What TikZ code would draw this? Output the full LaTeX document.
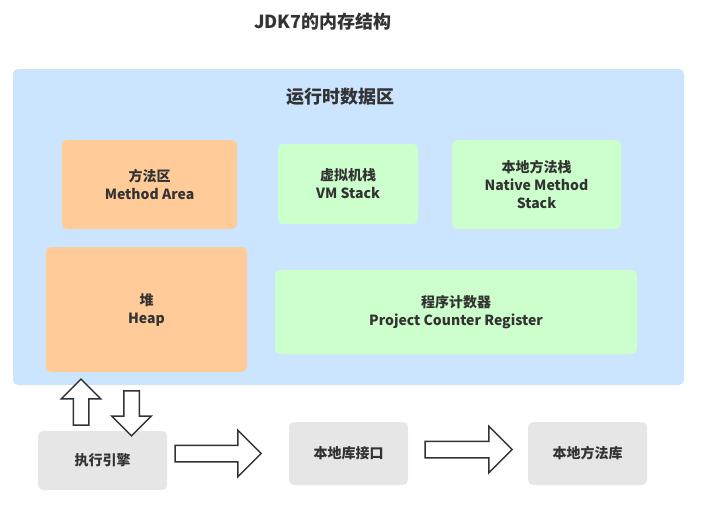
\documentclass[tikz,border=0pt]{standalone}
\usepackage{fontspec}
\setmainfont{Noto Sans CJK SC}
\usepackage{tikz}
\usetikzlibrary{positioning}
\usetikzlibrary{shapes.arrows}
\definecolor{runtime}{RGB}{204,229,255}
\definecolor{shared}{RGB}{255,204,153}
\definecolor{private}{RGB}{204,255,204}
\definecolor{native}{RGB}{230,230,230}
\definecolor{ink}{RGB}{51,51,51}
\tikzset{
  area/.style={rectangle,rounded corners=5pt,inner sep=0pt,text=ink,align=center,font=\bfseries\fontsize{14}{18}\selectfont},
  fatarrow/.style={single arrow,draw=ink,fill=white,line width=1.5pt,inner sep=7.5pt,single arrow head extend=15pt,single arrow tip angle=90}
}
\begin{document}
\begin{tikzpicture}[x=1pt,y=-1pt]
\useasboundingbox (0,0) rectangle (717,514);
%titles
\node (title) at (323,22) [text=ink,font=\bfseries\fontsize{18}{22}\selectfont] {JDK7的内存结构};
\node (rt) at (348.5,227) [area,fill=runtime,minimum width=671pt,minimum height=316pt] {};
\node (rtl) at (340,97) [text=ink,font=\bfseries\fontsize{18}{22}\selectfont] {运行时数据区};

%shared areas
\node (ma) at (149.5,184.5) [area,fill=shared,minimum width=175pt,minimum height=89pt] {方法区\\Method Area};
\node (heap) at (146.5,309.5) [area,fill=shared,minimum width=201pt,minimum height=125pt] {堆\\Heap};

%thread areas
\node (vms) at (348,184) [area,fill=private,minimum width=140pt,minimum height=80pt] {虚拟机栈\\VM Stack};
\node (nms) at (536.5,184.5) [area,fill=private,minimum width=169pt,minimum height=89pt] {本地方法栈\\Native Method\\Stack};
\node (pc) at (456,312) [area,fill=private,minimum width=362pt,minimum height=84pt] {程序计数器\\Project Counter Register};

%native side
\node (engine) at (102.5,460.5) [area,fill=native,minimum width=129pt,minimum height=59pt] {执行引擎};
\node (libif) at (348.5,453.5) [area,fill=native,minimum width=119pt,minimum height=63pt] {本地库接口};
\node (lib) at (587.5,453.5) [area,fill=native,minimum width=119pt,minimum height=63pt] {本地方法库};

%block arrows
\node (up) at (81,406) [fatarrow,inner sep=7pt,shape border rotate=90,minimum height=46pt,minimum width=38pt,single arrow head extend=12pt] {};
\node (down) at (131.5,409.5) [fatarrow,inner sep=7pt,shape border rotate=270,minimum height=45pt,minimum width=38pt,single arrow head extend=12pt] {};
\node (a1) at (214,453.5) [fatarrow,minimum height=86pt,minimum width=45pt] {};
\node (a2) at (464.5,449.5) [fatarrow,minimum height=87pt,minimum width=45pt] {};
\end{tikzpicture}
\end{document}
